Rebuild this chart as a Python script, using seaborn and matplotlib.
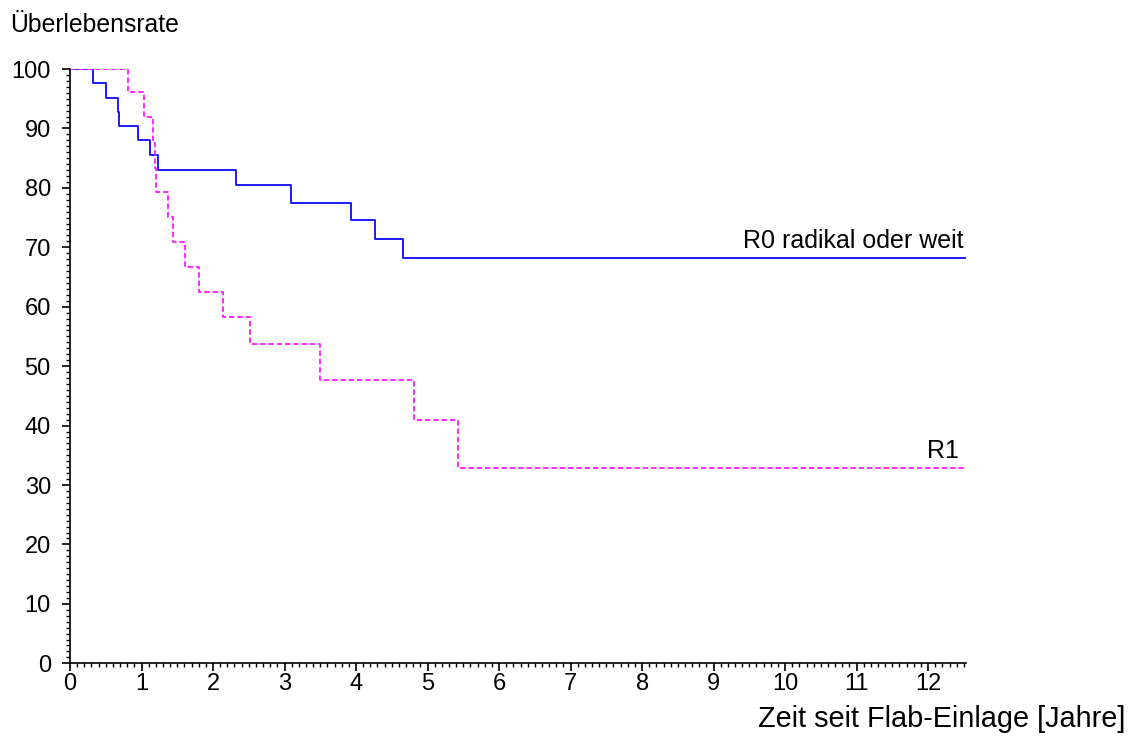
import matplotlib
matplotlib.use("Agg")
import matplotlib.pyplot as plt
import seaborn as sns
import numpy as np
from matplotlib.ticker import MultipleLocator

sns.set_theme(style="white")
plt.rcParams['font.family'] = ['Liberation Sans', 'DejaVu Sans']
plt.rcParams['text.color'] = 'black'
plt.rcParams['xtick.color'] = 'black'
plt.rcParams['ytick.color'] = 'black'
plt.rcParams['xtick.labelcolor'] = 'black'
plt.rcParams['ytick.labelcolor'] = 'black'

# Data
x_max = 12.53
r0_times = [0.0, 0.326, 0.50, 0.667, 0.685, 0.947, 1.12, 1.235, 2.32, 3.09, 3.93, 4.26, 4.66, x_max]
r0_surv = [100.0, 97.6, 95.2, 92.8, 90.4, 88.1, 85.6, 83.0, 80.4, 77.5, 74.6, 71.4, 68.2, 68.2]
r1_times = [0.0, 0.815, 1.035, 1.165, 1.185, 1.205, 1.375, 1.436, 1.61, 1.81, 2.14, 2.52, 3.49, 4.815, 5.42, x_max]
r1_surv = [100.0, 96.2, 91.9, 87.5, 83.3, 79.3, 75.1, 70.9, 66.6, 62.4, 58.2, 53.7, 47.6, 40.9, 32.8, 32.8]
labels = ["R0 radikal oder weit", "R1"]
y_ticks = list(range(0, 101, 10))
x_ticks = list(range(0, 13))

W, H = 1136, 737
fig = plt.figure(figsize=(W / 100, H / 100), dpi=100)
ax = fig.add_axes([70 / W, 1 - 663.3 / H, (966 - 70) / W, (663.3 - 69) / H])

sns.lineplot(x=r0_times, y=r0_surv, ax=ax, color="#0a0aff", drawstyle="steps-post",
             estimator=None, sort=False, linewidth=1.3)
sns.lineplot(x=r1_times, y=r1_surv, ax=ax, color="#ff1aff", drawstyle="steps-post",
             estimator=None, sort=False, linewidth=1.3, linestyle=(0, (3, 1.6)))

ax.set_xlim(0, x_max)
ax.set_ylim(0, 100)
ax.set_xticks(x_ticks)
ax.set_yticks(y_ticks)
ax.xaxis.set_minor_locator(MultipleLocator(0.1))
ax.yaxis.set_minor_locator(MultipleLocator(1))
ax.tick_params(axis='both', which='major', direction='out', length=5.8, width=1.2,
               color='black', labelsize=17, bottom=True, left=True)
ax.tick_params(axis='x', which='major', pad=1.5)
ax.tick_params(axis='y', which='major', pad=8)
ax.tick_params(axis='both', which='minor', direction='out', length=3.2, width=1.0,
               color='black', bottom=True, left=True)
for s in ['top', 'right']:
    ax.spines[s].set_visible(False)
for s in ['left', 'bottom']:
    ax.spines[s].set_color('black')
    ax.spines[s].set_linewidth(1.2)
ax.set_xlabel("")
ax.set_ylabel("")
ax.grid(False)

ax.text(x_max - 0.04, r0_surv[-1] + 0.9, labels[0], ha='right', va='bottom', fontsize=18, color='black')
ax.text(x_max - 0.1, r1_surv[-1] + 0.9, labels[1], ha='right', va='bottom', fontsize=18, color='black')

fig.text(10 / W, 1 - 32 / H, "Überlebensrate", ha='left', va='baseline', fontsize=17.8)
fig.text(1125 / W, 1 - 727 / H, "Zeit seit Flab-Einlage [Jahre]", ha='right', va='baseline', fontsize=20.8)

fig.savefig("out.png", dpi=100, facecolor='white')
